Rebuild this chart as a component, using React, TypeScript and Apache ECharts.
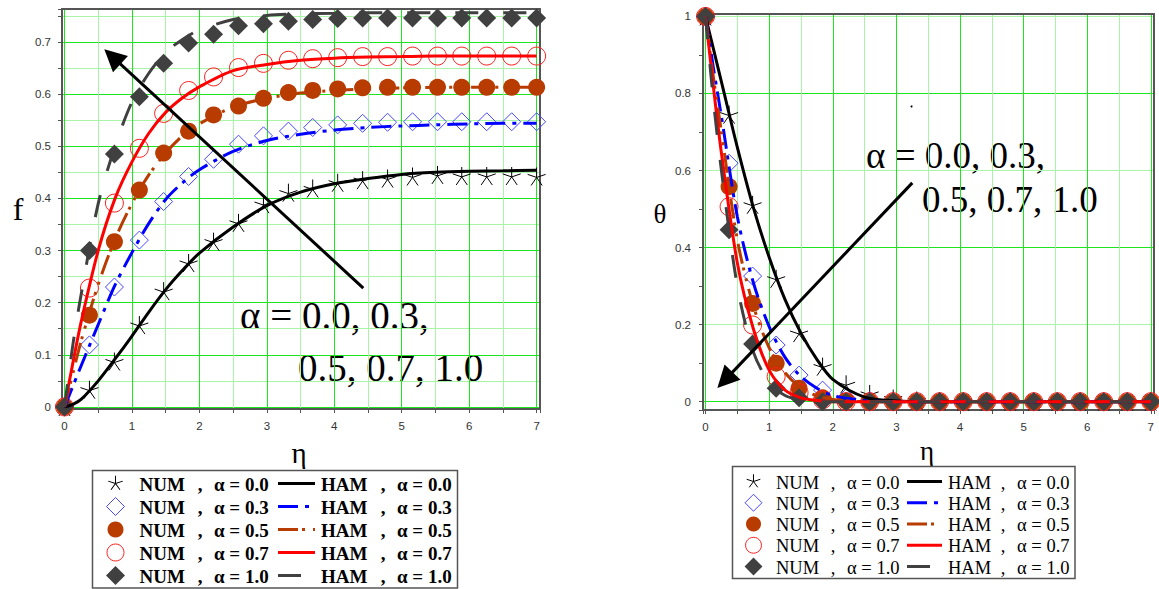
import React, { useEffect, useRef } from 'react';
import * as echarts from 'echarts';

// ---------- data ----------
const ALPHA_LABELS = ['0.0', '0.3', '0.5', '0.7', '1.0'];

// η stations of the numerical (NUM) solution
const ETA_NUM = [0, 0.37, 0.74, 1.11, 1.47, 1.84, 2.21, 2.58, 2.95, 3.32, 3.68, 4.05, 4.42, 4.79, 5.16, 5.53, 5.89, 6.26, 6.63, 7.0];
// η stations of the HAM series
const ETA_HAM = [0, 0.125, 0.25, 0.5, 0.75, 1, 1.25, 1.5, 1.75, 2, 2.5, 3, 3.5, 4, 4.5, 5, 5.5, 6, 6.5, 7];

// f(η) — numerical
const F_NUM_A00 = [0, 0.033, 0.087, 0.157, 0.222, 0.276, 0.317, 0.353, 0.389, 0.411, 0.419, 0.43, 0.435, 0.438, 0.442, 0.445, 0.443, 0.443, 0.443, 0.442];
const F_NUM_A03 = [0, 0.119, 0.23, 0.32, 0.394, 0.442, 0.475, 0.504, 0.52, 0.529, 0.536, 0.541, 0.544, 0.546, 0.547, 0.547, 0.547, 0.547, 0.547, 0.547];
const F_NUM_A05 = [0, 0.176, 0.317, 0.416, 0.487, 0.529, 0.56, 0.577, 0.592, 0.603, 0.607, 0.61, 0.612, 0.613, 0.613, 0.613, 0.613, 0.613, 0.613, 0.613];
const F_NUM_A07 = [0, 0.228, 0.391, 0.496, 0.563, 0.607, 0.633, 0.651, 0.659, 0.665, 0.668, 0.67, 0.672, 0.672, 0.673, 0.673, 0.673, 0.673, 0.673, 0.673];
const F_NUM_A10 = [0, 0.3, 0.485, 0.595, 0.659, 0.698, 0.715, 0.731, 0.735, 0.74, 0.743, 0.745, 0.746, 0.746, 0.746, 0.746, 0.746, 0.746, 0.746, 0.746];

// f(η) — HAM
const F_HAM_A00 = [0, 0.005, 0.015, 0.05, 0.092, 0.136, 0.182, 0.225, 0.262, 0.295, 0.345, 0.386, 0.412, 0.428, 0.438, 0.446, 0.45, 0.452, 0.453, 0.454];
const F_HAM_A03 = [0, 0.04, 0.08, 0.158, 0.234, 0.296, 0.352, 0.398, 0.43, 0.455, 0.49, 0.511, 0.523, 0.531, 0.536, 0.539, 0.541, 0.543, 0.544, 0.544];
const F_HAM_A05 = [0, 0.065, 0.128, 0.235, 0.322, 0.39, 0.445, 0.487, 0.52, 0.543, 0.575, 0.592, 0.602, 0.607, 0.61, 0.612, 0.613, 0.613, 0.613, 0.613];
const F_HAM_A07 = [0, 0.085, 0.165, 0.3, 0.4, 0.47, 0.525, 0.565, 0.593, 0.614, 0.645, 0.657, 0.665, 0.669, 0.671, 0.672, 0.673, 0.673, 0.673, 0.673];
const F_HAM_A10 = [0, 0.12, 0.218, 0.39, 0.5, 0.585, 0.64, 0.68, 0.705, 0.723, 0.743, 0.751, 0.754, 0.755, 0.756, 0.756, 0.756, 0.756, 0.756, 0.756];

// θ(η) — numerical
const T_NUM_A00 = [1, 0.745, 0.511, 0.319, 0.178, 0.091, 0.045, 0.02, 0.008, 0.003, 0.001, 0, 0, 0, 0, 0, 0, 0, 0, 0];
const T_NUM_A03 = [1, 0.619, 0.326, 0.147, 0.069, 0.03, 0.01, 0.003, 0, 0, 0, 0, 0, 0, 0, 0, 0, 0, 0, 0];
const T_NUM_A05 = [1, 0.558, 0.255, 0.1, 0.035, 0.01, 0.002, 0, 0, 0, 0, 0, 0, 0, 0, 0, 0, 0, 0, 0];
const T_NUM_A07 = [1, 0.506, 0.199, 0.065, 0.023, 0.005, 0, 0, 0, 0, 0, 0, 0, 0, 0, 0, 0, 0, 0, 0];
const T_NUM_A10 = [1, 0.446, 0.15, 0.035, 0.01, 0, 0, 0, 0, 0, 0, 0, 0, 0, 0, 0, 0, 0, 0, 0];

// θ(η) — HAM
const T_HAM_A00 = [1, 0.915, 0.83, 0.66, 0.505, 0.375, 0.265, 0.178, 0.11, 0.058, 0.012, 0.002, 0, 0, 0, 0, 0, 0, 0, 0];
const T_HAM_A03 = [1, 0.865, 0.74, 0.48, 0.31, 0.195, 0.115, 0.065, 0.035, 0.016, 0.003, 0, 0, 0, 0, 0, 0, 0, 0, 0];
const T_HAM_A05 = [1, 0.84, 0.7, 0.42, 0.25, 0.14, 0.075, 0.036, 0.015, 0.006, 0, 0, 0, 0, 0, 0, 0, 0, 0, 0];
const T_HAM_A07 = [1, 0.815, 0.645, 0.36, 0.19, 0.082, 0.03, 0.01, 0.003, 0, 0, 0, 0, 0, 0, 0, 0, 0, 0, 0];
const T_HAM_A10 = [1, 0.78, 0.6, 0.3, 0.13, 0.05, 0.016, 0.004, 0, 0, 0, 0, 0, 0, 0, 0, 0, 0, 0, 0];

const F_NUM = [F_NUM_A00, F_NUM_A03, F_NUM_A05, F_NUM_A07, F_NUM_A10];
const F_HAM = [F_HAM_A00, F_HAM_A03, F_HAM_A05, F_HAM_A07, F_HAM_A10];
const T_NUM = [T_NUM_A00, T_NUM_A03, T_NUM_A05, T_NUM_A07, T_NUM_A10];
const T_HAM = [T_HAM_A00, T_HAM_A03, T_HAM_A05, T_HAM_A07, T_HAM_A10];

// annotation arrows (data coordinates: tail, head)
const ARROW_F = [[4.43, 0.228], [0.71, 0.672]];
const ARROW_THETA = [[3.25, 0.568], [0.305, 0.056]];

// ---------- styles ----------
const STAR_D = 'M0,0L0,-9M0,0L8.56,-2.78M0,0L5.29,7.28M0,0L-5.29,7.28M0,0L-8.56,-2.78';
echarts.graphic.registerShape('starSpokes', echarts.graphic.extendPath(STAR_D, {}));

const CLEAR = 'rgba(0,0,0,0)';
const AXIS_COLOR = '#555555';
const GRID_MAJOR = '#1ee61e';
const GRID_MINOR = '#a8f5a8';
const BROWN = '#b83b00';
const SERIF = '"Liberation Serif", "Times New Roman", serif';
const SANS = '"Liberation Sans", Arial, sans-serif';

const MARKERS = [
  { kind: 'star', symbol: 'path://' + STAR_D, size: 18, fill: CLEAR, stroke: '#000000', borderWidth: 1 },
  { kind: 'diamond', symbol: 'diamond', size: 18, fill: CLEAR, stroke: '#4646ff', borderWidth: 1 },
  { kind: 'circle', symbol: 'circle', size: 17, fill: BROWN, stroke: BROWN, borderWidth: 0 },
  { kind: 'circle', symbol: 'circle', size: 18, fill: CLEAR, stroke: '#ff1e1e', borderWidth: 1 },
  { kind: 'diamond', symbol: 'diamond', size: 19, fill: '#404040', stroke: '#404040', borderWidth: 0 },
];

const CURVES: { color: string; dash: any }[] = [
  { color: '#000000', dash: 'solid' },
  { color: '#0000ff', dash: [20, 7, 4, 7] },
  { color: BROWN, dash: [20, 4, 3, 8, 3, 8] },
  { color: '#ff0000', dash: 'solid' },
  { color: '#404040', dash: [23, 25] },
];

// split-line colours per tick; the extent ticks at both ends stay invisible
function gridColors(n: number, pattern: string[]) {
  return [CLEAR, ...Array.from({ length: n }, (_, i) => pattern[i % pattern.length]), CLEAR];
}

const intLabel = (v: number) =>
  Math.abs(v - Math.round(v)) < 1e-6 && v > -0.01 && v < 7.01 ? String(Math.round(v)) : '';

const tenthLabel = (maxT: number, step: number) => (v: number) => {
  const t = Math.round(v * 10);
  if (Math.abs(v * 10 - t) > 1e-6 || t < 0 || t > maxT || t % step !== 0) return '';
  if (t === 0) return '0';
  if (t === 10) return '1';
  return (t / 10).toFixed(1);
};

function mainAxis(gridIndex: number, position: string, min: number, max: number, step: number, colors: string[], formatter: any, margin: number) {
  return {
    type: 'value',
    gridIndex,
    position,
    min,
    max,
    minInterval: step,
    maxInterval: step,
    axisLine: { show: true, onZero: false, lineStyle: { color: AXIS_COLOR, width: 2 } },
    axisTick: { show: true, inside: false, length: 4, lineStyle: { color: AXIS_COLOR, width: 1 } },
    axisLabel: { show: true, color: '#333333', fontFamily: SANS, fontSize: 11.5, margin, formatter },
    splitLine: { show: true, lineStyle: { color: colors, width: 1 } },
  };
}

function frameAxis(gridIndex: number, position: string) {
  return {
    type: 'value',
    gridIndex,
    position,
    min: 0,
    max: 1,
    axisLine: { show: true, onZero: false, lineStyle: { color: AXIS_COLOR, width: 2 } },
    axisTick: { show: false },
    axisLabel: { show: false },
    splitLine: { show: false },
  };
}

function curveSeries(axisIndex: number, num: number[][], ham: number[][]) {
  const out: any[] = [];
  ALPHA_LABELS.forEach((_, i) => {
    const m = MARKERS[i];
    const c = CURVES[i];
    out.push({
      type: 'scatter',
      xAxisIndex: axisIndex,
      yAxisIndex: axisIndex,
      data: ETA_NUM.map((x, k) => [x, num[i][k]]),
      symbol: m.symbol,
      symbolSize: m.size,
      itemStyle: { color: m.fill, borderColor: m.stroke, borderWidth: m.borderWidth, opacity: 1 },
      silent: true,
    });
    out.push({
      type: 'line',
      xAxisIndex: axisIndex,
      yAxisIndex: axisIndex,
      data: ETA_HAM.map((x, k) => [x, ham[i][k]]),
      symbol: 'none',
      showSymbol: false,
      smooth: 0.3,
      lineStyle: { color: c.color, width: 3, type: c.dash },
      silent: true,
    });
  });
  return out;
}

function arrowSeries(axisIndex: number, arrow: number[][]) {
  return {
    type: 'line',
    xAxisIndex: axisIndex,
    yAxisIndex: axisIndex,
    data: [],
    silent: true,
    markLine: {
      silent: true,
      animation: false,
      symbol: ['none', 'triangle'],
      symbolSize: 22,
      label: { show: false },
      lineStyle: { color: '#000000', width: 3, type: 'solid' },
      emphasis: { disabled: true },
      data: [[{ coord: arrow[0] }, { coord: arrow[1] }]],
    },
  };
}

function text(x: number, y: number, str: string, font: string, align = 'left') {
  return {
    type: 'text',
    x,
    y,
    silent: true,
    style: {
      text: str,
      font,
      fill: '#000000',
      align,
      textAlign: align,
      verticalAlign: 'middle',
      textVerticalAlign: 'middle',
    },
  };
}

type LegendBox = {
  x: number; y: number; w: number; h: number;
  rowTop: number; rowStep: number;
  symX: number; numX: number; comma1X: number; alphaX: number;
  lineX1: number; lineX2: number; hamX: number; comma2X: number; alpha2X: number;
  font: string; scale: number;
};

function legendGraphics(b: LegendBox) {
  const els: any[] = [
    {
      type: 'rect',
      silent: true,
      shape: { x: b.x, y: b.y, width: b.w, height: b.h },
      style: { fill: '#ffffff', stroke: AXIS_COLOR, lineWidth: 1.5 },
    },
  ];
  ALPHA_LABELS.forEach((a, i) => {
    const cy = b.rowTop + i * b.rowStep;
    const m = MARKERS[i];
    const c = CURVES[i];
    const half = (m.size / 2) * b.scale;
    if (m.kind === 'star') {
      els.push({
        type: 'starSpokes',
        x: b.symX,
        y: cy,
        scaleX: b.scale * 0.85,
        scaleY: b.scale * 0.85,
        silent: true,
        style: { stroke: m.stroke, fill: 'none', lineWidth: 1 / (b.scale * 0.85) },
      });
    } else if (m.kind === 'diamond') {
      els.push({
        type: 'polygon',
        silent: true,
        shape: { points: [[b.symX, cy - half], [b.symX + half, cy], [b.symX, cy + half], [b.symX - half, cy]] },
        style: { fill: m.fill === CLEAR ? 'none' : m.fill, stroke: m.stroke, lineWidth: m.borderWidth || 0 },
      });
    } else {
      els.push({
        type: 'circle',
        silent: true,
        shape: { cx: b.symX, cy, r: half - 0.5 },
        style: { fill: m.fill === CLEAR ? 'none' : m.fill, stroke: m.stroke, lineWidth: m.borderWidth || 0 },
      });
    }
    const ty = cy + 1;
    els.push(text(b.numX, ty, 'NUM', b.font));
    els.push(text(b.comma1X, ty, ',', b.font, 'center'));
    els.push(text(b.alphaX, ty, `α = ${a}`, b.font));
    els.push({
      type: 'line',
      silent: true,
      shape: { x1: b.lineX1, y1: cy, x2: b.lineX2, y2: cy },
      style: { stroke: c.color, lineWidth: 3, lineDash: c.dash === 'solid' ? null : c.dash },
    });
    els.push(text(b.hamX, ty, 'HAM', b.font));
    els.push(text(b.comma2X, ty, ',', b.font, 'center'));
    els.push(text(b.alpha2X, ty, `α = ${a}`, b.font));
  });
  return els;
}

function buildOption() {
  const annotFontL = `39px ${SERIF}`;
  const annotFontR = `37px ${SERIF}`;
  return {
    animation: false,
    backgroundColor: '#ffffff',
    grid: [
      { left: 62, top: 9, width: 478, height: 400, outerBoundsMode: 'none', containLabel: false },
      { left: 703, top: 14, width: 451, height: 396, outerBoundsMode: 'none', containLabel: false },
    ],
    xAxis: [
      mainAxis(0, 'bottom', -0.037, 7.05, 0.5, gridColors(15, [GRID_MAJOR, GRID_MINOR]), intLabel, 11),
      frameAxis(0, 'top'),
      mainAxis(1, 'bottom', -0.04, 7.05, 0.5, gridColors(15, [GRID_MAJOR, GRID_MINOR]), intLabel, 11),
      frameAxis(1, 'top'),
    ],
    yAxis: [
      mainAxis(0, 'left', -0.004, 0.7633, 0.05, gridColors(16, [GRID_MAJOR, GRID_MINOR]), tenthLabel(7, 1), 11),
      frameAxis(0, 'right'),
      mainAxis(1, 'left', -0.0216, 1.0063, 0.1, gridColors(11, [GRID_MAJOR, CLEAR, GRID_MINOR, CLEAR]), tenthLabel(10, 2), 12),
      frameAxis(1, 'right'),
    ],
    series: [
      ...curveSeries(0, F_NUM, F_HAM),
      arrowSeries(0, ARROW_F),
      ...curveSeries(2, T_NUM, T_HAM),
      arrowSeries(2, ARROW_THETA),
    ],
    graphic: [
      // axis titles
      text(18, 209, 'f', `32px ${SERIF}`, 'center'),
      text(299, 453, 'η', `29px ${SERIF}`, 'center'),
      text(660, 214, 'θ', `27px ${SERIF}`, 'center'),
      text(927, 451, 'η', `27px ${SERIF}`, 'center'),
      // parameter annotations
      text(240, 315, 'α = 0.0, 0.3,', annotFontL),
      text(298, 367, '0.5, 0.7, 1.0', annotFontL),
      text(866, 155, 'α = 0.0, 0.3,', annotFontR),
      text(922, 199, '0.5, 0.7, 1.0', annotFontR),
      { type: 'circle', silent: true, shape: { cx: 911.5, cy: 106.5, r: 1 }, style: { fill: '#000000' } },
      // legends
      ...legendGraphics({
        x: 92.5, y: 470.5, w: 365, h: 117.5, rowTop: 483.5, rowStep: 23,
        symX: 115.5, numX: 139.5, comma1X: 200, alphaX: 214,
        lineX1: 278, lineX2: 315, hamX: 321, comma2X: 383, alpha2X: 397,
        font: `bold 19px ${SERIF}`, scale: 1,
      }),
      ...legendGraphics({
        x: 732.5, y: 466.5, w: 342.5, h: 112, rowTop: 481.5, rowStep: 21.25,
        symX: 753.5, numX: 776, comma1X: 833, alphaX: 847,
        lineX1: 907, lineX2: 942, hamX: 948, comma2X: 1003, alpha2X: 1017,
        font: `18.5px ${SERIF}`, scale: 0.94,
      }),
    ],
  };
}

export default function App() {
  const ref = useRef<HTMLDivElement>(null);
  useEffect(() => {
    const chart = echarts.init(ref.current as HTMLDivElement, null, { renderer: 'svg' });
    chart.setOption(buildOption() as any);
    return () => chart.dispose();
  }, []);
  return (
    <div
      ref={ref}
      style={{ position: 'fixed', left: 0, top: 0, width: 1159, height: 589, background: '#ffffff' }}
    />
  );
}
